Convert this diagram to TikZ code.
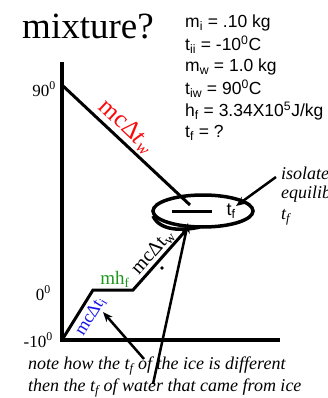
\documentclass[tikz,border=0pt]{standalone}
\usepackage{fontspec}
\setmainfont{Liberation Serif}
\newfontfamily\datafont{Liberation Sans}
\usepackage{tikz}
\usetikzlibrary{arrows.meta,calc}
\definecolor{cWater}{RGB}{250,10,10}
\definecolor{cFusion}{RGB}{30,150,30}
\definecolor{cIce}{RGB}{20,20,235}

\begin{document}
\begin{tikzpicture}[x=1pt,y=-1pt,
  axis/.style={line width=3.5pt},
  curve/.style={line width=3pt},
  pointer/.style={line width=2.5pt,-{Stealth[length=10pt,width=8pt]}},
  datum/.style={anchor=west,inner sep=0pt,font=\datafont\fontsize{17.5}{20}\selectfont},
  templabel/.style={anchor=east,inner sep=0pt,font=\fontsize{17}{20}\selectfont},
  remark/.style={anchor=west,inner sep=0pt,font=\itshape\fontsize{18}{20}\selectfont}]
  \clip (0,0) rectangle (328,398);
  % title and data
  \node[inner sep=0pt,font=\fontsize{37}{40}\selectfont] (title) at (88,27) {mixture?};
  \node[datum] (mi) at (185,23) {m\textsubscript{i} = .10 kg};
  \node[datum] (tii) at (185,45) {t\textsubscript{ii} = -10\textsuperscript{0}C};
  \node[datum] (mw) at (185,67) {m\textsubscript{w} = 1.0 kg};
  \node[datum] (tiw) at (185,89) {t\textsubscript{iw} = 90\textsuperscript{0}C};
  \node[datum] (hf) at (185,111) {h\textsubscript{f} = 3.34X10\textsuperscript{5}J/kg};
  \node[datum] (tfq) at (185,133) {t\textsubscript{f} = ?};
  % axes
  \coordinate (top) at (62,62);
  \coordinate (o) at (62,340);
  \coordinate (xend) at (280,340);
  \draw[axis] (top) -- (o) -- (xend);
  \node[templabel] (t90) at (56,89) {90\textsuperscript{0}};
  \node[templabel] (t0) at (51,293) {0\textsuperscript{0}};
  \node[templabel] (tm10) at (53,340) {-10\textsuperscript{0}};
  % water cooling
  \coordinate (w0) at (62,85);
  \coordinate (w1) at (190,205);
  \draw[curve] (w0) -- node[sloped,above,pos=0.43,inner sep=2pt,text=cWater,font=\fontsize{25}{27}\selectfont] (qw) {mcΔ\textit{t}\textsubscript{\textit{w}}} (w1);
  % ice warming, melting, warming
  \coordinate (i1) at (93,290);
  \coordinate (i2) at (133,290);
  \coordinate (i3) at (188,228);
  \draw[curve] (o) -- node[sloped,below,pos=0.6,inner sep=3pt,text=cIce,font=\fontsize{18}{20}\selectfont] (qi) {mcΔt\textsubscript{i}} (i1)
    -- node[above,pos=0.55,inner sep=1pt,text=cFusion,font=\fontsize{19}{21}\selectfont] (qf) {mh\textsubscript{f}} (i2)
    -- node[sloped,above,pos=0.5,inner sep=0.5pt,font=\fontsize{20}{22}\selectfont] (qm) {mcΔt\textsubscript{w}} (i3);
  \fill (162,268) circle (1.8pt);
  % equilibrium
  \draw[line width=3.5pt] (203,211) ellipse [x radius=50pt, y radius=16pt];
  \draw[line width=3.5pt] (153,216) .. controls (160,231) and (182,231) .. (200,227);
  \draw[line width=3pt] (172,211) -- (212,211);
  \node[inner sep=0pt,font=\datafont\fontsize{18}{20}\selectfont] (tf) at (231,211) {t\textsubscript{f}};
  \node[remark] (iso) at (281,173) {isolated};
  \node[remark] (equ) at (281,194) {equilibrium};
  \node[remark] (isotf) at (281,217) {\textit{t}\textsubscript{\textit{f}}};
  \coordinate (a0) at (276,177);
  \coordinate (a1) at (236,206);
  \draw[pointer] (a0) -- (a1);
  % notes
  \node[remark] (note1) at (28,366) {note how the \textit{t}\textsubscript{\textit{f}} of the ice is different};
  \node[remark] (note2) at (28,388) {then the \textit{t}\textsubscript{\textit{f}} of water that came from ice};
  \coordinate (b0) at (153,384);
  \coordinate (b1) at (188,223);
  \draw[pointer] (b0) -- (b1);
  \coordinate (c0) at (144,359);
  \coordinate (c1) at (103,312);
  \draw[pointer] (c0) -- (c1);
\end{tikzpicture}
\end{document}
